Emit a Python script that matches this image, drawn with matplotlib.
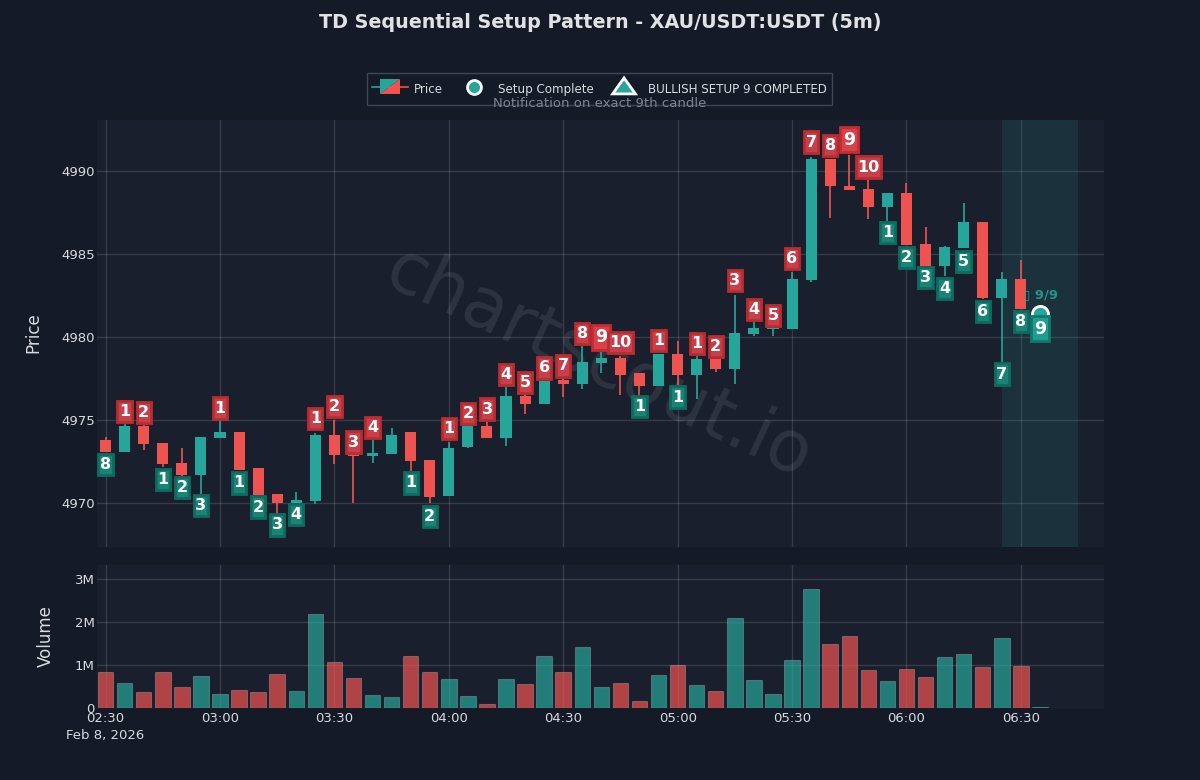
import numpy as np
import pandas as pd
import matplotlib
matplotlib.use("Agg")
import matplotlib.pyplot as plt
import matplotlib.dates as mdates
from matplotlib.colors import to_rgba
from matplotlib.legend_handler import HandlerBase
from matplotlib.lines import Line2D
from matplotlib.path import Path
from matplotlib.patches import Polygon
from matplotlib.ticker import FuncFormatter

opens = [4973.79,4973.06,4974.66,4973.62,4972.39,4971.70,4973.95,4974.27,4972.09,4970.55,
         4970.02,4970.14,4974.13,4973.00,4972.85,4972.96,4974.31,4972.61,4970.40,4973.39,
         4974.66,4973.95,4976.43,4976.00,4977.44,4977.16,4978.47,4978.77,4977.82,4977.06,
         4979.01,4977.74,4978.69,4978.06,4980.20,4980.52,4980.52,4983.45,4990.77,4989.15,
         4988.93,4987.84,4988.67,4985.63,4984.29,4985.36,4986.94,4982.38,4983.51,4981.70]
highs = [4973.99,4974.74,4974.74,4973.62,4973.34,4974.01,4975.00,4974.27,4972.09,4970.55,
         4970.67,4974.23,4975.00,4973.00,4973.83,4974.55,4974.31,4972.61,4973.69,4974.64,
         4974.86,4976.98,4976.60,4977.38,4977.60,4979.48,4979.13,4978.87,4977.82,4979.01,
         4979.78,4978.87,4978.69,4982.56,4980.90,4980.70,4983.91,4990.89,4990.77,4990.97,
         4989.46,4988.67,4989.29,4986.63,4985.48,4988.10,4986.94,4983.91,4984.64,4981.72]
lows = [4973.05,4973.05,4973.22,4972.17,4971.66,4970.55,4973.95,4972.02,4970.49,4969.37,
        4970.02,4969.94,4972.33,4969.98,4972.43,4972.96,4971.96,4969.98,4970.40,4973.33,
        4973.95,4973.43,4975.40,4976.00,4976.41,4976.85,4977.82,4976.51,4976.51,4977.06,
        4977.10,4976.29,4977.90,4977.20,4980.08,4980.08,4980.52,4983.35,4987.18,4988.87,
        4987.12,4987.00,4985.56,4984.29,4983.67,4985.36,4982.30,4978.53,4981.71,4981.68]
closes = [4973.06,4974.66,4973.56,4972.33,4971.70,4974.01,4974.31,4972.02,4970.49,4970.02,
          4970.20,4974.13,4972.89,4972.83,4973.02,4974.13,4972.55,4970.38,4973.33,4974.64,
          4973.95,4976.43,4976.00,4977.38,4977.16,4978.53,4978.77,4977.74,4977.06,4979.01,
          4977.74,4978.69,4978.06,4980.24,4980.54,4980.58,4983.53,4990.77,4989.09,4988.87,
          4987.84,4988.67,4985.56,4984.29,4985.44,4986.94,4982.38,4983.53,4981.71,4981.72]
volumes = [0.845,0.59,0.38,0.837,0.48,0.736,0.333,0.41,0.364,0.783,
           0.395,2.18,1.06,0.705,0.31,0.264,1.22,0.83,0.667,0.28,
           0.093,0.667,0.55,1.22,0.83,1.43,0.49,0.58,0.155,0.78,
           0.99,0.54,0.395,2.085,0.65,0.325,1.115,2.77,1.48,1.667,
           0.876,0.62,0.90,0.72,1.19,1.256,0.96,1.636,0.985,0.015]
label_text = ["8","1","2","1","2","3","1","1","2","3",
              "4","1","2","3","4","","1","2","1","2",
              "3","4","5","6","7","8","9","10","1","1",
              "1","1","2","3","4","5","6","7","8","9",
              "10","1","2","3","4","5","6","7","8","9"]
label_side = ["g","r","r","g","g","g","r","g","g","g",
              "g","r","r","r","r","","g","g","r","r",
              "r","r","r","r","r","r","r","r","g","r",
              "g","r","r","r","r","r","r","r","r","r",
              "r","g","g","g","g","g","g","g","g","g"]
label_price = [4972.33,4975.51,4975.45,4971.44,4970.93,4969.84,4975.73,4971.21,4969.76,4968.68,
               4969.33,4975.08,4975.81,4973.68,4974.57,np.nan,4971.21,4969.19,4974.50,4975.38,
               4975.67,4977.74,4977.26,4978.15,4978.27,4980.24,4980.00,4979.66,4975.81,4979.80,
               4976.39,4979.64,4979.44,4983.43,4981.67,4981.31,4984.74,4991.77,4991.55,4991.90,
               4990.26,4986.31,4984.82,4983.59,4982.92,4984.58,4981.55,4977.78,4980.97,4980.52]
setup_marker_price = 4981.4
price_ticks = [4970, 4975, 4980, 4985, 4990]
volume_ticks = [0, 1, 2, 3]

BG = "#141a26"
PANEL = "#1a1f2d"
GREEN = "#26a69a"
RED = "#ef5350"
TEXT = "#d8dae0"


def label_box(pad_x, total_h):
    """Box around a count: its width follows the digits, its height is fixed (pixels)."""
    def style(x0, y0, width, height, mutation_size):
        cx0, cx1 = x0 - pad_x, x0 + width + pad_x
        cy = y0 + height / 2
        b, t_ = cy - total_h / 2, cy + total_h / 2
        return Path([(cx0, b), (cx1, b), (cx1, t_), (cx0, t_), (cx0, b)], closed=True)
    return style


times = pd.date_range("2026-02-08 02:30", periods=len(opens), freq="5min")
t = mdates.date2num(times)
step = t[1] - t[0]

fig = plt.figure(figsize=(12, 7.8), dpi=100, facecolor=BG)
W, H = 1200, 780
ax = fig.add_axes([97/W, 1-547/H, (1104-97)/W, (547-120)/H], facecolor=PANEL)
axv = fig.add_axes([97/W, 1-708/H, (1104-97)/W, (708-565)/H], facecolor=PANEL, sharex=ax)

for a in (ax, axv):
    for s in a.spines.values():
        s.set_visible(False)
    a.grid(True, color="white", alpha=0.13, lw=1)
    a.set_axisbelow(True)
    a.tick_params(length=0, colors=TEXT, labelsize=9.5, pad=1.5)
axv.tick_params(axis="x", pad=3)

# candles
for i in range(len(t)):
    up = closes[i] >= opens[i]
    c = GREEN if up else RED
    ax.vlines(t[i], lows[i], highs[i], color=c, lw=1.2, zorder=3)
    bot, top = min(opens[i], closes[i]), max(opens[i], closes[i])
    ax.bar(t[i], top-bot, bottom=bot, width=step*0.58, color=c, lw=0, zorder=3)
    axv.bar(t[i], volumes[i]*1e6, width=step*0.81, color=to_rgba(c, 0.7),
            edgecolor=(1, 1, 1, 0.22), lw=0.8, zorder=3)

# highlighted zone
ax.axvspan(t[47], t[47]+4*step, color=GREEN, alpha=0.14, lw=0, zorder=1)

# setup counts
ax.scatter([t[49]], [setup_marker_price], s=135, color=GREEN, edgecolor="white",
           linewidth=2, zorder=4)
for i, (s, side, p) in enumerate(zip(label_text, label_side, label_price)):
    if not s:
        continue
    big = s == "9"
    if side == "r":
        fc = "#d6424a" if big else "#c5404a"
        ec = "#c72a30" if big else "#bb2c30"
    else:
        fc = "#1f9d8d" if big else "#1b8276"
        ec = "#0f7a6c" if big else "#0d6c60"
    ax.text(t[i], p, s, ha="center", va="center", color="white", fontweight="bold",
            fontsize=12.5 if big else 11.5, zorder=6,
            bbox=dict(boxstyle=label_box(3.0, 25.0) if big else label_box(1.6, 21.2),
                      fc=fc, ec=ec, lw=2))

ax.text(t[49]+0.05*step, 4982.55, "\u25af 9/9", color=GREEN, alpha=0.85, fontsize=9.5,
        fontweight="bold", ha="center", va="center", zorder=5)

# watermark
ax.text(0.498, 0.428, "chartscout.io", transform=ax.transAxes, rotation=-25, fontsize=51,
        color="white", alpha=0.09, ha="center", va="center", zorder=2)

ax.set_xlim(t[0]-0.45*step, t[0]+52.36*step)
ax.set_ylim(4967.35, 4993.1)
ax.set_yticks(price_ticks)
ax.tick_params(labelbottom=False)
axv.set_ylim(0, 3.33e6)
axv.set_yticks([v*1e6 for v in volume_ticks])
axv.yaxis.set_major_formatter(FuncFormatter(lambda v, _: "0" if v == 0 else f"{v/1e6:.0f}M"))
axv.xaxis.set_major_locator(mdates.MinuteLocator(byminute=[0, 30]))
axv.xaxis.set_major_formatter(mdates.DateFormatter("%H:%M"))

fig.text(33/W, 1-333/H, "Price", color=TEXT, fontsize=12, rotation=90, ha="center", va="center")
fig.text(46/W, 1-636/H, "Volume", color=TEXT, fontsize=12, rotation=90, ha="center", va="center")
fig.text(105.5/W, 1-735/H, "Feb 8, 2026", color=TEXT, fontsize=9.5, ha="center", va="center")
fig.text(600/W, 1-22/H, "TD Sequential Setup Pattern - XAU/USDT:USDT (5m)", color="#e0e2e6",
         fontsize=13.8, fontweight="bold", ha="center", va="center")


# legend
class CandleHandler(HandlerBase):
    def create_artists(self, legend, orig, x0, y0, w, h, fs, trans):
        mid = (h - y0) / 2 - 1.0
        bx0, bx1 = w*0.22, w*0.78
        by0, by1 = mid - 5.4, mid + 5.4
        return [
            Line2D([0, w/2], [mid, mid], color=GREEN, lw=1.2, transform=trans),
            Line2D([w/2, w], [mid, mid], color=RED, lw=1.2, transform=trans),
            Polygon([[bx0, by0], [bx0, by1], [bx1, by1]], fc=GREEN, lw=0, transform=trans),
            Polygon([[bx0, by0], [bx1, by0], [bx1, by1]], fc=RED, lw=0, transform=trans),
        ]


class CircleHandler(HandlerBase):
    def create_artists(self, legend, orig, x0, y0, w, h, fs, trans):
        mid = (h - y0) / 2 - 1.0
        return [Line2D([w/2], [mid], ls="", marker="o", ms=10, mfc=GREEN, mec="white",
                       mew=2, transform=trans)]


class TriangleHandler(HandlerBase):
    def create_artists(self, legend, orig, x0, y0, w, h, fs, trans):
        mid = (h - y0) / 2 - 1.0
        cx = w / 2
        return [Polygon([[cx - 8.2, mid - 5.0], [cx + 8.2, mid - 5.0], [cx, mid + 6.5]],
                        fc=GREEN, ec="white", lw=2, joinstyle="miter", transform=trans)]


handles = [
    Line2D([], [], color=GREEN),
    Line2D([], [], color=GREEN, ls="--"),
    Line2D([], [], color=GREEN, ls=":"),
]
leg = fig.legend(handles, ["Price", "Setup Complete", "BULLISH SETUP 9 COMPLETED"],
                 handler_map={handles[0]: CandleHandler(), handles[1]: CircleHandler(),
                              handles[2]: TriangleHandler()},
                 loc="center", bbox_to_anchor=(599.5/W, 1-89/H), ncol=3, frameon=True,
                 fontsize=8.6, labelcolor=TEXT, facecolor=BG, edgecolor="#3f4654",
                 framealpha=1, fancybox=False, handlelength=3.0, handleheight=2.35,
                 handletextpad=0.5, columnspacing=1.07, borderpad=0.45)
leg.get_frame().set_linewidth(1)
fig.text(600/W, 1-103.5/H, "Notification on exact 9th candle", color="#7f838b", fontsize=9.5,
         ha="center", va="center", zorder=10)

fig.savefig("out.png", dpi=100, facecolor=BG)
